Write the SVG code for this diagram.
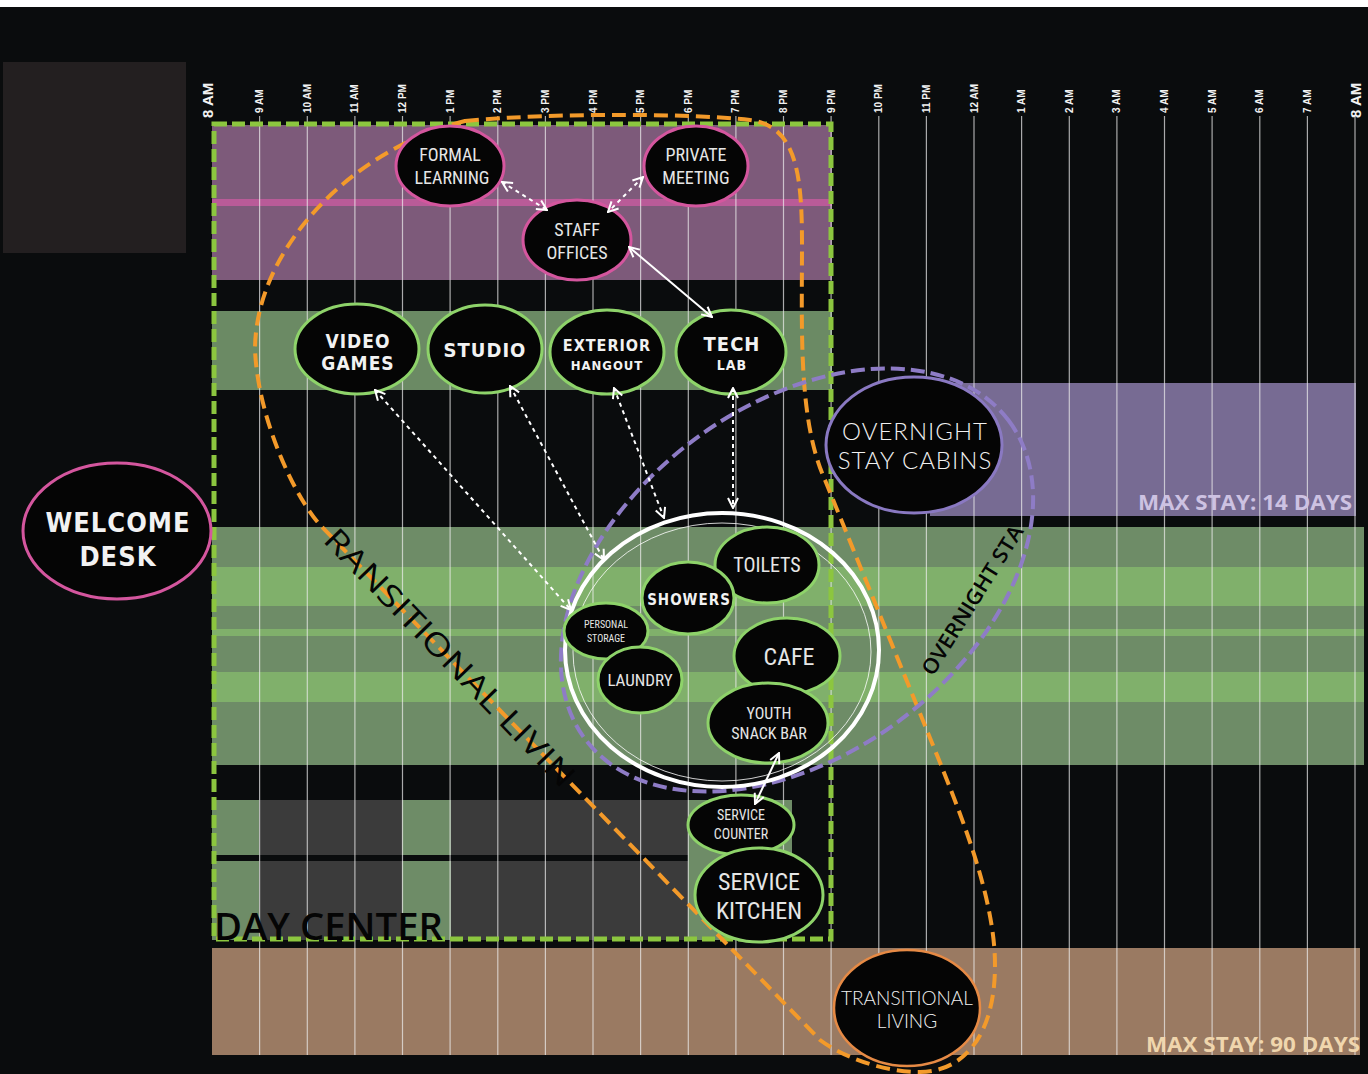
<svg xmlns="http://www.w3.org/2000/svg" width="1368" height="1074" viewBox="0 0 1368 1074">
  <defs>
    <style>
      .hour { font-family: "Liberation Sans Narrow", "Liberation Sans", sans-serif; font-weight: bold; font-size: 10px; fill: #f2f2f2; }
      .hour-big { font-size: 15px; }
      .grid { stroke: #eeeeee; stroke-width: 1.2; opacity: 0.7; }
      .node { fill: #050505; stroke-width: 3; }
      .pink { stroke: #d4569e; }
      .green { stroke: #8ed36a; }
      .purple { stroke: #8a79c2; }
      .orange { stroke: #e68a45; stroke-width: 2.5; }
      .thin { font-family: "Liberation Sans Narrow", "Roboto Condensed", "Liberation Sans", sans-serif; fill: #e6e6e6; text-anchor: middle; }
      .block { font-family: "DejaVu Sans Condensed", "DejaVu Sans", sans-serif; font-weight: bold; fill: #f2f2f2; text-anchor: middle; letter-spacing: 1px; }
      .geo { font-family: "Lato", "Noto Sans", sans-serif; font-weight: 300; fill: #f0f0f0; text-anchor: middle; }
      .stay { font-family: "Open Sans", "Liberation Sans", sans-serif; font-weight: 700; font-size: 22px; text-anchor: end; }
      .zone { font-family: "Open Sans", "Liberation Sans", sans-serif; fill: #050505; }
      .link { stroke: #ffffff; stroke-width: 2; fill: none; marker-start: url(#chev); marker-end: url(#chev); }
      .dotted { stroke-dasharray: 4 4; }
    </style>
    <marker id="chev" viewBox="0 0 12 12" refX="11" refY="6" markerWidth="12" markerHeight="12" markerUnits="userSpaceOnUse" orient="auto-start-reverse">
      <path d="M1,1 L11,6 L1,11" fill="none" stroke="#ffffff" stroke-width="2"/>
    </marker>
  </defs>

  <!-- page -->
  <rect x="0" y="0" width="1368" height="1074" fill="#0a0c0d"/>
  <rect x="0" y="0" width="1368" height="7" fill="#ffffff"/>
  <rect x="3" y="62" width="183" height="191" fill="#231f20"/>

  <!-- time bands -->
  <g id="bands">
    <rect x="212" y="125" width="620" height="155" fill="#7d5a7a"/>
    <rect x="212" y="199" width="620" height="7" fill="#c35c9e" opacity="0.85"/>
    <rect x="212" y="311" width="620" height="79" fill="#6b8a64"/>
    <rect x="212" y="527" width="1152" height="238" fill="#6e8c67"/>
    <rect x="212" y="567" width="1152" height="39" fill="#80b06b"/>
    <rect x="212" y="629" width="1152" height="7" fill="#80b06b"/>
    <rect x="212" y="672" width="1152" height="30" fill="#80b06b"/>
    <rect x="930" y="383" width="426" height="133" fill="#776b93"/>
    <!-- service rows -->
    <rect x="212" y="800" width="47" height="140" fill="#6e8c67"/>
    <rect x="259" y="800" width="143" height="140" fill="#3b3b3b"/>
    <rect x="402" y="800" width="49" height="140" fill="#6e8c67"/>
    <rect x="451" y="800" width="237" height="140" fill="#3b3b3b"/>
    <rect x="688" y="800" width="104" height="55" fill="#6e8c67"/>
    <rect x="688" y="800" width="72" height="140" fill="#6e8c67"/>
    <rect x="212" y="855" width="476" height="6" fill="#0a0c0d"/>
    <rect x="212" y="948" width="1148" height="107" fill="#9a7a62"/>
  </g>

  <!-- hour grid -->
  <g id="grid">
    <line class="grid" x1="259.6" y1="116" x2="259.6" y2="1055"/>
    <line class="grid" x1="307.3" y1="116" x2="307.3" y2="1055"/>
    <line class="grid" x1="354.9" y1="116" x2="354.9" y2="1055"/>
    <line class="grid" x1="402.5" y1="116" x2="402.5" y2="1055"/>
    <line class="grid" x1="450.1" y1="116" x2="450.1" y2="1055"/>
    <line class="grid" x1="497.8" y1="116" x2="497.8" y2="1055"/>
    <line class="grid" x1="545.4" y1="116" x2="545.4" y2="1055"/>
    <line class="grid" x1="593" y1="116" x2="593" y2="1055"/>
    <line class="grid" x1="640.6" y1="116" x2="640.6" y2="1055"/>
    <line class="grid" x1="688.3" y1="116" x2="688.3" y2="1055"/>
    <line class="grid" x1="735.9" y1="116" x2="735.9" y2="1055"/>
    <line class="grid" x1="783.5" y1="116" x2="783.5" y2="1055"/>
    <line class="grid" x1="831.1" y1="116" x2="831.1" y2="1055"/>
    <line class="grid" x1="878.8" y1="116" x2="878.8" y2="1055"/>
    <line class="grid" x1="926.4" y1="116" x2="926.4" y2="1055"/>
    <line class="grid" x1="974" y1="116" x2="974" y2="1055"/>
    <line class="grid" x1="1021.6" y1="116" x2="1021.6" y2="1055"/>
    <line class="grid" x1="1069.3" y1="116" x2="1069.3" y2="1055"/>
    <line class="grid" x1="1116.9" y1="116" x2="1116.9" y2="1055"/>
    <line class="grid" x1="1164.5" y1="116" x2="1164.5" y2="1055"/>
    <line class="grid" x1="1212.1" y1="116" x2="1212.1" y2="1055"/>
    <line class="grid" x1="1259.8" y1="116" x2="1259.8" y2="1055"/>
    <line class="grid" x1="1307.4" y1="116" x2="1307.4" y2="1055"/>
    <line class="grid" x1="1355" y1="116" x2="1355" y2="1055"/>
  </g>

  <!-- hour labels -->
  <g id="hours">
    <text class="hour hour-big" transform="translate(213,118) rotate(-90)">8 AM</text>
    <text class="hour" transform="translate(263,113) rotate(-90)">9 AM</text>
    <text class="hour" transform="translate(310.8,113) rotate(-90)">10 AM</text>
    <text class="hour" transform="translate(358.4,113) rotate(-90)">11 AM</text>
    <text class="hour" transform="translate(406,113) rotate(-90)">12 PM</text>
    <text class="hour" transform="translate(453.6,113) rotate(-90)">1 PM</text>
    <text class="hour" transform="translate(501.3,113) rotate(-90)">2 PM</text>
    <text class="hour" transform="translate(548.9,113) rotate(-90)">3 PM</text>
    <text class="hour" transform="translate(596.5,113) rotate(-90)">4 PM</text>
    <text class="hour" transform="translate(644.1,113) rotate(-90)">5 PM</text>
    <text class="hour" transform="translate(691.8,113) rotate(-90)">6 PM</text>
    <text class="hour" transform="translate(739.4,113) rotate(-90)">7 PM</text>
    <text class="hour" transform="translate(787,113) rotate(-90)">8 PM</text>
    <text class="hour" transform="translate(834.6,113) rotate(-90)">9 PM</text>
    <text class="hour" transform="translate(882.3,113) rotate(-90)">10 PM</text>
    <text class="hour" transform="translate(929.9,113) rotate(-90)">11 PM</text>
    <text class="hour" transform="translate(977.5,113) rotate(-90)">12 AM</text>
    <text class="hour" transform="translate(1025.1,113) rotate(-90)">1 AM</text>
    <text class="hour" transform="translate(1072.8,113) rotate(-90)">2 AM</text>
    <text class="hour" transform="translate(1120.4,113) rotate(-90)">3 AM</text>
    <text class="hour" transform="translate(1168,113) rotate(-90)">4 AM</text>
    <text class="hour" transform="translate(1215.6,113) rotate(-90)">5 AM</text>
    <text class="hour" transform="translate(1263.3,113) rotate(-90)">6 AM</text>
    <text class="hour" transform="translate(1310.9,113) rotate(-90)">7 AM</text>
    <text class="hour hour-big" transform="translate(1361,118) rotate(-90)">8 AM</text>
  </g>

  <!-- zone outlines -->
  <g id="zones">
    <rect x="214" y="124" width="617" height="815" fill="none" stroke="#8cc63f" stroke-width="5" stroke-dasharray="13 5"/>
    <path d="M465,121 C560,112 700,114 750,120 C795,126 802,170 802,243 C802,330 798,420 825,480 L939,760 C963,820 995,900 995,965 C995,1040 960,1072 920,1072 C880,1072 840,1055 820,1040 L322,527 C296,500 258,420 255,350 C255,250 350,150 465,121 Z" fill="none" stroke="#f39a2a" stroke-width="4" stroke-dasharray="14 7"/>
    <ellipse cx="797" cy="580" rx="265" ry="174" transform="rotate(-37 797 580)" fill="none" stroke="#8e7cc6" stroke-width="4" stroke-dasharray="14 6"/>
    <ellipse cx="722" cy="650" rx="157" ry="137" fill="none" stroke="#ffffff" stroke-width="4"/>
    <ellipse cx="722" cy="652" rx="149" ry="129" fill="none" stroke="#ffffff" stroke-width="1" opacity="0.8"/>
  </g>

  <!-- zone titles -->
  <text class="zone" x="214" y="940" font-size="37" font-weight="600" textLength="229" lengthAdjust="spacingAndGlyphs">DAY CENTER</text>
  <text class="zone" font-size="31" transform="translate(322,541) rotate(46)" textLength="345" lengthAdjust="spacingAndGlyphs">RANSITIONAL LIVIN</text>
  <text class="zone" font-size="21" font-weight="600" transform="translate(933,677) rotate(-58)" textLength="172" lengthAdjust="spacingAndGlyphs">OVERNIGHT STA</text>
  <text class="stay" x="1352" y="510" fill="#cdc2e2" textLength="214" lengthAdjust="spacingAndGlyphs">MAX STAY: 14 DAYS</text>
  <text class="stay" x="1360" y="1052" fill="#f0d6ad" textLength="214" lengthAdjust="spacingAndGlyphs">MAX STAY: 90 DAYS</text>

  <!-- nodes -->
  <g id="welcome-desk">
    <ellipse class="node pink" cx="117" cy="531" rx="94" ry="68"/>
    <text class="block" x="118" y="532" font-size="27">WELCOME</text>
    <text class="block" x="118" y="566" font-size="27">DESK</text>
  </g>
  <g id="formal-learning">
    <ellipse class="node pink" cx="450" cy="166" rx="54" ry="40"/>
    <text class="thin" x="450" y="161" font-size="18">FORMAL</text>
    <text class="thin" x="452" y="184" font-size="18">LEARNING</text>
  </g>
  <g id="private-meeting">
    <ellipse class="node pink" cx="696" cy="166" rx="52" ry="40"/>
    <text class="thin" x="696" y="161" font-size="18">PRIVATE</text>
    <text class="thin" x="696" y="184" font-size="18">MEETING</text>
  </g>
  <g id="staff-offices">
    <ellipse class="node pink" cx="577" cy="240" rx="54" ry="40"/>
    <text class="thin" x="577" y="236" font-size="18">STAFF</text>
    <text class="thin" x="577" y="259" font-size="18">OFFICES</text>
  </g>
  <g id="video-games">
    <ellipse class="node green" cx="357" cy="349" rx="62" ry="45"/>
    <text class="block" x="358" y="348" font-size="19">VIDEO</text>
    <text class="block" x="358" y="370" font-size="19">GAMES</text>
  </g>
  <g id="studio">
    <ellipse class="node green" cx="485" cy="349" rx="57" ry="44"/>
    <text class="block" x="485" y="357" font-size="20">STUDIO</text>
  </g>
  <g id="exterior-hangout">
    <ellipse class="node green" cx="607" cy="352" rx="57" ry="42"/>
    <text class="block" x="607" y="351" font-size="16" letter-spacing="0.5">EXTERIOR</text>
    <text class="block" x="607" y="370" font-size="13" letter-spacing="0.5">HANGOUT</text>
  </g>
  <g id="tech-lab">
    <ellipse class="node green" cx="731" cy="352" rx="55" ry="42"/>
    <text class="block" x="732" y="351" font-size="20">TECH</text>
    <text class="block" x="732" y="370" font-size="14">LAB</text>
  </g>
  <g id="overnight-stay-cabins">
    <ellipse class="node purple" cx="914" cy="445" rx="88" ry="68"/>
    <text class="geo" x="915" y="440" font-size="24" letter-spacing="1">OVERNIGHT</text>
    <text class="geo" x="915" y="469" font-size="24" letter-spacing="1">STAY CABINS</text>
  </g>
  <g id="toilets">
    <ellipse class="node green" cx="767" cy="565" rx="52" ry="38"/>
    <text class="thin" x="767" y="572" font-size="20">TOILETS</text>
  </g>
  <g id="showers">
    <ellipse class="node green" cx="688" cy="598" rx="46" ry="36"/>
    <text class="block" x="689" y="605" font-size="15" letter-spacing="0.5">SHOWERS</text>
  </g>
  <g id="personal-storage">
    <ellipse class="node green" cx="606" cy="631" rx="42" ry="28" stroke-width="2"/>
    <text class="thin" x="606" y="628" font-size="10">PERSONAL</text>
    <text class="thin" x="606" y="642" font-size="10">STORAGE</text>
  </g>
  <g id="laundry">
    <ellipse class="node green" cx="640" cy="680" rx="42" ry="33"/>
    <text class="thin" x="640" y="686" font-size="17">LAUNDRY</text>
  </g>
  <g id="cafe">
    <ellipse class="node green" cx="787" cy="656" rx="53" ry="38"/>
    <text class="thin" x="789" y="665" font-size="24">CAFE</text>
  </g>
  <g id="youth-snack-bar">
    <ellipse class="node green" cx="768" cy="723" rx="60" ry="40"/>
    <text class="thin" x="769" y="719" font-size="16">YOUTH</text>
    <text class="thin" x="769" y="739" font-size="16">SNACK BAR</text>
  </g>
  <g id="service-counter">
    <ellipse class="node green" cx="741" cy="825" rx="53" ry="30"/>
    <text class="thin" x="741" y="820" font-size="14">SERVICE</text>
    <text class="thin" x="741" y="839" font-size="14">COUNTER</text>
  </g>
  <g id="service-kitchen">
    <ellipse class="node green" cx="759" cy="895" rx="64" ry="47"/>
    <text class="thin" x="759" y="890" font-size="24">SERVICE</text>
    <text class="thin" x="759" y="919" font-size="24">KITCHEN</text>
  </g>
  <g id="transitional-living">
    <ellipse class="node orange" cx="907" cy="1008" rx="73" ry="58"/>
    <text class="geo" x="907" y="1005" font-size="19" font-weight="400">TRANSITIONAL</text>
    <text class="geo" x="907" y="1028" font-size="19" font-weight="400">LIVING</text>
  </g>

  <!-- connectors, drawn over the bubbles they join -->
  <g id="connectors">
    <line class="link dotted" x1="502" y1="182" x2="547" y2="210"/>
    <line class="link dotted" x1="643" y1="177" x2="608" y2="212"/>
    <line class="link" x1="629" y1="247" x2="712" y2="317"/>
    <line class="link dotted" x1="375" y1="390" x2="571" y2="610"/>
    <line class="link dotted" x1="510" y1="386" x2="604" y2="560"/>
    <line class="link dotted" x1="614" y1="388" x2="664" y2="518"/>
    <line class="link dotted" x1="733" y1="388" x2="733" y2="508"/>
    <line class="link" x1="779" y1="753" x2="755" y2="804"/>
  </g>
</svg>
